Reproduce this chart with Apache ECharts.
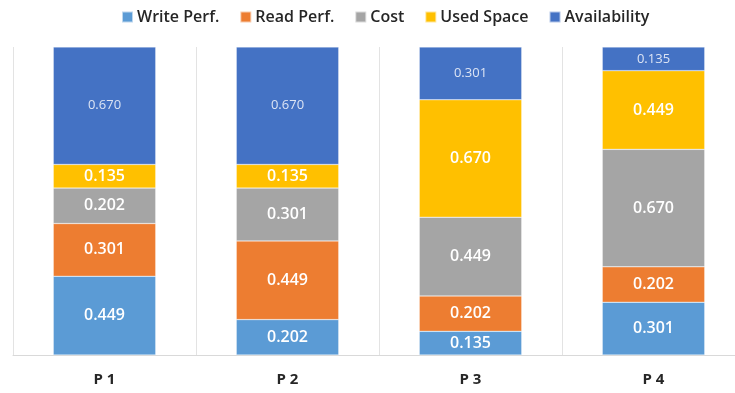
<!DOCTYPE html>
<html>
<head>
<meta charset="utf-8">
<script src="https://cdn.jsdelivr.net/npm/echarts@6/dist/echarts.min.js"></script>
<style>
  html, body { margin: 0; padding: 0; background: #fff; overflow: hidden; }
  #chart { width: 760px; height: 393px; }
</style>
</head>
<body>
<div id="chart"></div>
<script>
// Stacked scores per plan
const categories = ['P1', 'P2', 'P3', 'P4'];
const writePerf = [0.449, 0.202, 0.135, 0.301];
const readPerf = [0.301, 0.449, 0.202, 0.202];
const cost = [0.202, 0.301, 0.449, 0.670];
const usedSpace = [0.135, 0.135, 0.670, 0.449];
const availability = [0.670, 0.670, 0.301, 0.135];

const seriesDefs = [
  { name: 'Write Perf.', data: writePerf, color: '#5B9BD5' },
  { name: 'Read Perf.', data: readPerf, color: '#ED7D31' },
  { name: 'Cost', data: cost, color: '#A5A5A5' },
  { name: 'Used Space', data: usedSpace, color: '#FFC000' },
  { name: 'Availability', data: availability, color: '#4472C4' }
];

const chart = echarts.init(document.getElementById('chart'));
chart.setOption({
  animation: false,
  textStyle: { fontFamily: 'Open Sans' },
  legend: {
    top: 4,
    left: 116,
    itemWidth: 11,
    itemHeight: 11,
    itemGap: 20,
    icon: 'rect',
    textStyle: { fontSize: 16, fontWeight: 600, color: '#262626', fontFamily: 'Open Sans', padding: [0, 0, 0, -1] },
    data: seriesDefs.map(s => s.name)
  },
  grid: { left: 13, top: 47, width: 732, height: 308 },
  xAxis: {
    type: 'category',
    data: categories,
    axisTick: { show: false },
    axisLine: { lineStyle: { color: '#D9D9D9', width: 1 } },
    splitLine: { show: true, lineStyle: { color: '#E3E3E3', width: 1 } },
    axisLabel: {
      margin: 17,
      fontSize: 15,
      fontWeight: 'bold',
      color: '#262626',
      formatter: v => v.split('').join(' ')
    }
  },
  yAxis: { type: 'value', min: 0, max: 1.757, show: false, splitLine: { show: false } },
  series: seriesDefs.map((s, i) => ({
    name: s.name,
    type: 'bar',
    stack: 'total',
    barWidth: '56%',
    data: s.data,
    itemStyle: { color: s.color, borderColor: 'rgba(255,255,255,0.6)', borderWidth: 0.5 },
    label: {
      show: true,
      position: 'inside',
      formatter: p => p.value.toFixed(3),
      color: i === 4 ? '#DCE4F4' : '#FFFFFF',
      fontSize: i === 4 ? 13 : 16,
      fontWeight: i === 4 ? 'normal' : 600,
      fontFamily: 'Open Sans'
    }
  }))
});
</script>
</body>
</html>
